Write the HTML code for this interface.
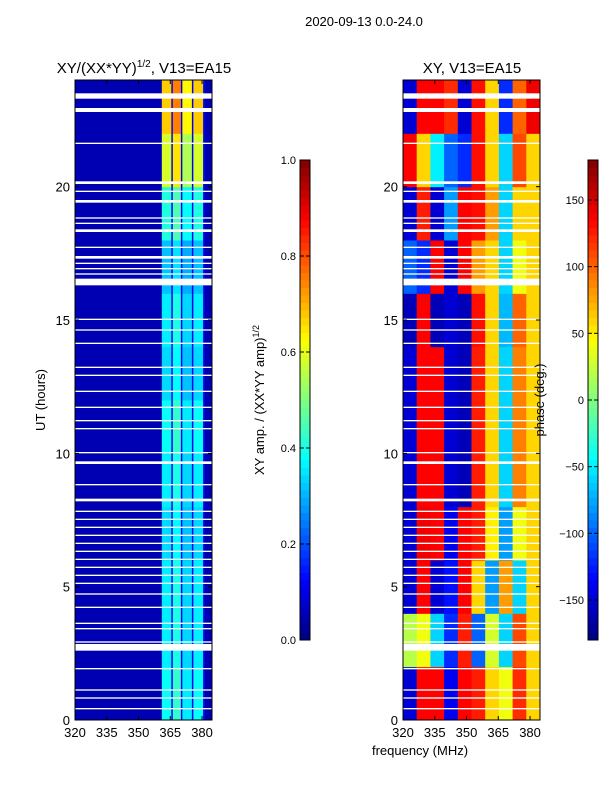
<!DOCTYPE html>
<html><head><meta charset="utf-8"><style>
body{margin:0;background:#fff;}
svg text{font-family:"Liberation Sans","DejaVu Sans",sans-serif;}
</style></head><body>
<svg id="fig" width="600" height="800" xmlns="http://www.w3.org/2000/svg">
<rect width="600" height="800" fill="#fff"/>
<text x="364" y="26" font-size="13" text-anchor="middle">2020-09-13 0.0-24.0</text>
<text x="144" y="73" font-size="15" text-anchor="middle">XY/(XX*YY)<tspan font-size="10" dy="-6">1/2</tspan><tspan dy="6">, V13=EA15</tspan></text>
<text x="472" y="73" font-size="15" text-anchor="middle">XY, V13=EA15</text>
<g id="left"></g>
<g id="right"></g>
<g id="axes"></g>
<text transform="translate(45,400) rotate(-90)" font-size="13" text-anchor="middle">UT (hours)</text>
<text x="420" y="755" font-size="13" text-anchor="middle">frequency (MHz)</text>
<text transform="translate(264,400) rotate(-90)" font-size="13" text-anchor="middle">XY amp. / (XX*YY amp)<tspan font-size="9" dy="-5">1/2</tspan></text>
<text transform="translate(544,400) rotate(-90)" font-size="13" text-anchor="middle">phase (deg.)</text>
</svg>
<script>
const freqRange=[320,384.7];
const utRange=[0,24];
const xTicks=[320,335,350,365,380];
const yTicks=[0,5,10,15,20];
const ampTicks=[0.0,0.2,0.4,0.6,0.8,1.0];
const phaseTicks=[-150,-100,-50,0,50,100,150];
// left: frequency stripe edges and per-stripe amplitude
const ampBinEdges=[320,361,365.5,366.2,370,370.7,375.2,375.9,380.5,381.2,384.7];
const ampBinVals=[0.05,0.45,0.12,0.5,0.12,0.42,0.12,0.45,0.12,0.05];
// row amplitude scale per 2h band (0-2,...,22-24)
const ampRowScale=[0.85,0.8,0.8,0.75,0.8,0.85,0.75,0.8,0.7,0.9,1.3,1.5];
// phase: 12 two-hour bands x 10 frequency bins
const phaseVals=[
[-150,135,135,-140,135,125,60,40,120,60],
[20,40,-60,-120,125,-100,30,-60,110,60],
[-150,135,-150,-130,135,60,-80,80,-60,60],
[-150,140,135,-140,135,125,50,-80,40,60],
[-150,135,135,-150,-160,125,60,-60,90,60],
[-150,135,135,-150,-160,125,60,-60,90,60],
[-150,135,135,-150,-160,125,60,-60,90,60],
[-160,135,-160,-150,-160,130,60,-70,100,60],
[-100,-120,135,-150,135,80,60,-60,40,60],
[-150,125,-150,-80,135,130,80,-60,60,60],
[135,60,-50,-100,-120,130,60,-60,110,60],
[-150,135,135,120,-150,130,60,-120,100,140]];
// flagged (white) time gaps [start, width] in hours
const gaps=[[23.3,.2],[22.8,.15],[21.6,.05],[20.1,.1],[19.8,.05],[19.4,.1],[18.8,.05],[18.6,.05],[18.3,.1],[17.7,.05],[17.3,.1],[17.1,.05],[16.9,.05],[16.7,.05],[16.3,.25],[15.0,.05],[14.6,.05],[14.1,.05],[13.2,.05],[12.9,.05],[12.3,.05],[11.7,.05],[11.2,.05],[10.9,.05],[10.0,.05],[9.6,.1],[8.8,.05],[8.2,.1],[7.8,.05],[7.5,.05],[7.2,.05],[6.9,.05],[6.6,.05],[6.3,.05],[6.0,.05],[5.7,.05],[5.4,.05],[5.1,.05],[4.7,.05],[4.2,.05],[3.6,.05],[3.4,.05],[2.9,.05],[2.6,.25],[1.9,.05],[1.1,.05],[0.8,.05],[0.4,.05]];

const NS='http://www.w3.org/2000/svg';
const panels={left:[75,212],right:[403,540]};
const yTop=80,yBot=720;
function yScale(u){return yBot-(u-utRange[0])/(utRange[1]-utRange[0])*(yBot-yTop);}
function xScale(p,f){const [a,b]=panels[p];return a+(f-freqRange[0])/(freqRange[1]-freqRange[0])*(b-a);}
function jet(v){v=Math.max(0,Math.min(1,v));
 const r=Math.max(0,Math.min(1,1.5-Math.abs(4*v-3))),g=Math.max(0,Math.min(1,1.5-Math.abs(4*v-2))),b=Math.max(0,Math.min(1,1.5-Math.abs(4*v-1)));
 return `rgb(${Math.round(r*255)},${Math.round(g*255)},${Math.round(b*255)})`;}
function mk(tag,attrs,parent){const e=document.createElementNS(NS,tag);for(const k in attrs)e.setAttribute(k,attrs[k]);parent.appendChild(e);return e;}
const L=document.getElementById('left'),R=document.getElementById('right'),A=document.getElementById('axes');
const band=2;
for(let r=0;r<ampRowScale.length;r++){
 for(let c=0;c<ampBinVals.length;c++){
  const v=ampBinVals[c]<0.15?ampBinVals[c]:ampBinVals[c]*ampRowScale[r];
  const e=mk('rect',{x:xScale('left',ampBinEdges[c]),y:yScale((r+1)*band),width:xScale('left',ampBinEdges[c+1])-xScale('left',ampBinEdges[c])+0.3,height:yScale(r*band)-yScale((r+1)*band)+0.5,fill:jet(v)},L);
  
  
 }
}
const nb=phaseVals[0].length,fw=(freqRange[1]-freqRange[0])/nb;
for(let r=0;r<phaseVals.length;r++){
 for(let c=0;c<nb;c++){
  const e=mk('rect',{x:xScale('right',freqRange[0]+c*fw),y:yScale((r+1)*band),width:xScale('right',freqRange[0]+(c+1)*fw)-xScale('right',freqRange[0]+c*fw)+0.5,height:yScale(r*band)-yScale((r+1)*band)+0.5,fill:jet((phaseVals[r][c]+180)/360)},R);
  
  
 }
}
for(const p of ['left','right']){
 const [a,b]=panels[p];
 for(const g of gaps){
  const e=mk('rect',{x:a,y:yScale(g[0]+g[1]),width:b-a,height:Math.max(1.3,yScale(g[0])-yScale(g[0]+g[1])),fill:'#fff'},p=='left'?L:R);
  
  
 }
 const fr=mk('rect',{x:a,y:yTop,width:b-a,height:yBot-yTop,fill:'none',stroke:'#000','stroke-width':1},A);
 
 
 for(const t of xTicks){const x=xScale(p,t);
  mk('line',{x1:x,x2:x,y1:yBot,y2:yBot-4,stroke:'#000'},A);mk('line',{x1:x,x2:x,y1:yTop,y2:yTop+4,stroke:'#000'},A);
  const tx=mk('text',{x:x,y:yBot+17,'font-size':13,'text-anchor':'middle'},A);tx.textContent=t;
  
  }
 for(const t of yTicks){const y=yScale(t);
  mk('line',{x1:a,x2:a+4,y1:y,y2:y,stroke:'#000'},A);mk('line',{x1:b,x2:b-4,y1:y,y2:y,stroke:'#000'},A);
  const tx=mk('text',{x:a-5,y:y+5,'font-size':13,'text-anchor':'end'},A);tx.textContent=t;
  
  }
}
// colorbars
function colorbar(x,name,ticks,lo,hi){
 const y0=160,y1=640,n=64;
 for(let i=0;i<n;i++){const e=mk('rect',{x:x,y:y1-(i+1)*(y1-y0)/n,width:10,height:(y1-y0)/n+0.5,fill:jet((i+0.5)/n)},A);
  
  }
 const f=mk('rect',{x:x,y:y0,width:10,height:y1-y0,fill:'none',stroke:'#000'},A);
 
 
 for(const t of ticks){const y=y1-(t-lo)/(hi-lo)*(y1-y0);
  mk('line',{x1:x,x2:x+4,y1:y,y2:y,stroke:'#000'},A);mk('line',{x1:x+10,x2:x+6,y1:y,y2:y,stroke:'#000'},A);
  const tx=mk('text',{x:x-4,y:y+4,'font-size':11,'text-anchor':'end'},A);tx.textContent=(name=='amp-colorbar'?t.toFixed(1):(t<0?'\u2212'+(-t):t));
  
  }
}
colorbar(300,'amp-colorbar',ampTicks,0,1);
colorbar(588,'phase-colorbar',phaseTicks,-180,180);
</script>
</body></html>
